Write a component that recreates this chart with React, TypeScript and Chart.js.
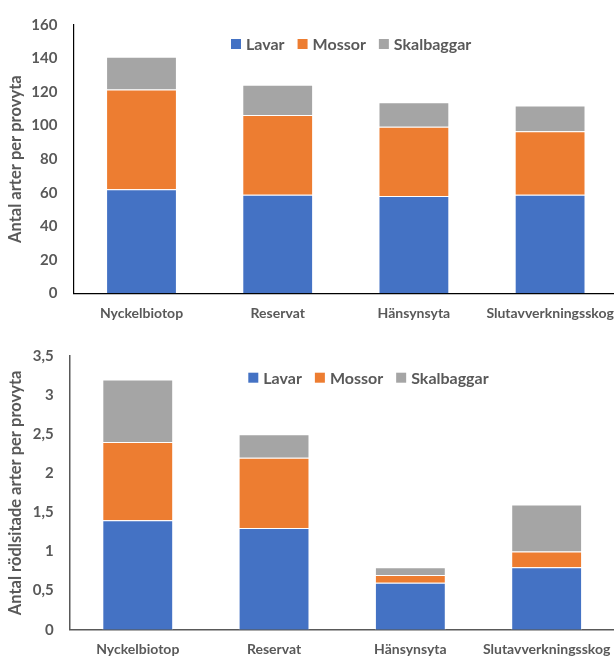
import React, { useEffect, useRef } from "react";
import { Chart, registerables } from "chart.js";

Chart.register(...registerables);

// Shared categories and series
const categories = ["Nyckelbiotop", "Reservat", "Hänsynsyta", "Slutavverkningsskog"];
const seriesNames = ["Lavar", "Mossor", "Skalbaggar"];
const seriesColors = ["#4472C4", "#ED7D31", "#A5A5A5"];

// Antal arter per provyta
const lavarArter = [62, 58.7, 58, 58.7];
const mossorArter = [59.5, 47.6, 41.3, 37.9];
const skalbaggarArter = [19.6, 18, 14.6, 15.4];
const arterTicks = ["0", "20", "40", "60", "80", "100", "120", "140", "160"];

// Antal rödlistade arter per provyta
const lavarRodlistade = [1.4, 1.3, 0.6, 0.8];
const mossorRodlistade = [1.0, 0.9, 0.1, 0.2];
const skalbaggarRodlistade = [0.8, 0.3, 0.1, 0.6];
const rodlistadeTicks = ["0", "0,5", "1", "1,5", "2", "2,5", "3", "3,5"];

const TEXT = "#595959";
const FONT = "Lato, 'Open Sans', sans-serif";

// Legend drawn inside the plot area, above the bars
const inlineLegend = {
  id: "inlineLegend",
  afterDraw(chart: any, _args: any, opts: any) {
    const ctx = chart.ctx;
    ctx.save();
    ctx.font = `bold ${opts.size}px ${FONT}`;
    ctx.textBaseline = "middle";
    ctx.textAlign = "left";
    let x = opts.x;
    chart.data.datasets.forEach((ds: any) => {
      ctx.fillStyle = ds.backgroundColor;
      ctx.fillRect(x, opts.y - opts.box / 2, opts.box, opts.box);
      x += opts.box + opts.textGap;
      ctx.fillStyle = TEXT;
      ctx.fillText(ds.label, x, opts.y + 1);
      x += ctx.measureText(ds.label).width + opts.itemGap;
    });
    ctx.restore();
  },
};

type PanelProps = {
  series: number[][];
  ticks: string[];
  max: number;
  step: number;
  title: string;
  width: number;
  height: number;
  area: { left: number; right: number; top: number; bottom: number };
  axisColor: string;
  axisWidth: number;
  legend: { x: number; y: number };
};

function StackedPanel(p: PanelProps) {
  const ref = useRef<HTMLCanvasElement | null>(null);

  useEffect(() => {
    const canvas = ref.current;
    if (!canvas) return;
    const chart = new Chart(canvas, {
      type: "bar",
      data: {
        labels: categories,
        datasets: p.series.map((values, i) => ({
          label: seriesNames[i],
          data: values,
          backgroundColor: seriesColors[i],
          borderColor: "rgba(255,255,255,0.55)",
          borderWidth: 1,
          categoryPercentage: 1,
          barPercentage: 0.52,
        })),
      },
      options: {
        animation: false,
        responsive: false,
        devicePixelRatio: 1,
        events: [],
        layout: {
          padding: {
            left: 0,
            top: p.area.top,
            right: p.width - p.area.right,
            bottom: 0,
          },
        },
        plugins: {
          legend: { display: false },
          tooltip: { enabled: false },
          inlineLegend: { x: p.legend.x, y: p.legend.y, box: 10, textGap: 5, itemGap: 13, size: 16 },
        } as any,
        scales: {
          x: {
            stacked: true,
            grid: { display: false, drawTicks: false },
            border: { display: true, color: p.axisColor, width: p.axisWidth },
            ticks: {
              autoSkip: false,
              maxRotation: 0,
              minRotation: 0,
              padding: 11.5,
              color: TEXT,
              font: { family: FONT, size: 14, weight: "bold" },
            },
            afterFit: (scale: any) => {
              scale.height = p.height - p.area.bottom;
            },
          },
          y: {
            stacked: true,
            min: 0,
            max: p.max,
            grid: { display: false, drawTicks: false },
            border: { display: true, color: p.axisColor, width: p.axisWidth },
            ticks: {
              stepSize: p.step,
              padding: 16,
              color: TEXT,
              font: { family: FONT, size: 15, weight: "bold" },
              callback: (_v: any, i: number) => p.ticks[i],
            },
            title: {
              display: true,
              text: p.title,
              color: TEXT,
              font: { family: FONT, size: 16.5, weight: "bold" },
              padding: { top: 6, bottom: 0 },
            },
            afterFit: (scale: any) => {
              scale.width = p.area.left;
            },
          },
        },
      },
      plugins: [inlineLegend],
    });
    return () => chart.destroy();
  }, []);

  return (
    <canvas
      ref={ref}
      width={p.width}
      height={p.height}
      style={{ display: "block", width: p.width, height: p.height }}
    />
  );
}

export default function App() {
  return (
    <div
      style={{
        position: "absolute",
        left: 0,
        top: 0,
        width: 614,
        height: 657,
        overflow: "hidden",
        background: "#ffffff",
      }}
    >
      <div style={{ position: "absolute", left: 0, top: 0 }}>
        <StackedPanel
          series={[lavarArter, mossorArter, skalbaggarArter]}
          ticks={arterTicks}
          max={160}
          step={20}
          title="Antal arter per provyta"
          width={630}
          height={330}
          area={{ left: 73.4, right: 618.2, top: 20, bottom: 293.3 }}
          axisColor="#000000"
          axisWidth={1.2}
          legend={{ x: 231, y: 44 }}
        />
      </div>
      <div style={{ position: "absolute", left: 0, top: 328 }}>
        <StackedPanel
          series={[lavarRodlistade, mossorRodlistade, skalbaggarRodlistade]}
          ticks={rodlistadeTicks}
          max={3.5}
          step={0.5}
          title="Antal rödlsitade arter per provyta"
          width={630}
          height={329}
          area={{ left: 69.6, right: 614.8, top: 28, bottom: 301.7 }}
          axisColor="#595959"
          axisWidth={1.5}
          legend={{ x: 248.3, y: 49.7 }}
        />
      </div>
    </div>
  );
}
